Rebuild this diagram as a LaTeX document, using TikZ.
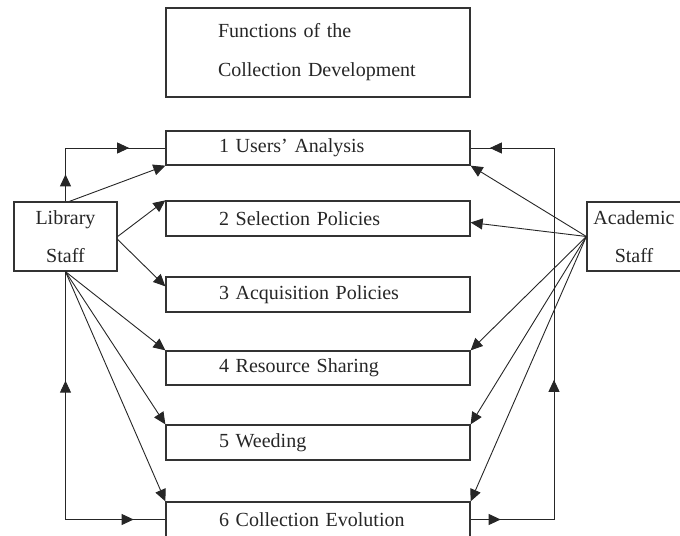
\documentclass[tikz,border=0pt]{standalone}
\usepackage{fontspec}
\setmainfont{Liberation Serif}
\usetikzlibrary{arrows.meta,decorations.markings}
\begin{document}
\begin{tikzpicture}[x=1bp,y=-1bp,
  >={Triangle[length=12bp,width=11bp]},
  every node/.style={font=\fontsize{20bp}{38bp}\selectfont, text=black!85},
  funcbox/.style={draw=black!80, line width=1.3bp, minimum width=304bp, text width=304bp, inner xsep=0pt, align=left},
  staffbox/.style={draw=black!80, line width=1.3bp, align=center, inner sep=0pt},
  conn/.style={draw=black!85, line width=0.9bp},
  tipped/.style={conn,->},
  mk/.style={postaction={decorate,decoration={markings,mark=at position #1 with {\arrow{>}}}}},
  rmk/.style={postaction={decorate,decoration={markings,mark=at position #1 with {\arrowreversed{>}}}}}
]
\useasboundingbox (0,0) rectangle (680,536);
\clip (0,0) rectangle (680,536);

% title
\node[funcbox, minimum height=89bp, font=\fontsize{20bp}{39bp}\selectfont] (title) at (318,52.5)
  {\hspace*{52bp}Functions of the\\\hspace*{52bp}Collection Development};

% function boxes
\node[funcbox, minimum height=34bp] (b1) at (318,148)   {\hspace*{53bp}1 Users' Analysis};
\node[funcbox, minimum height=35bp] (b2) at (318,218.5) {\hspace*{53bp}2 Selection Policies};
\node[funcbox, minimum height=35bp] (b3) at (318,294.5) {\hspace*{53bp}3 Acquisition Policies};
\node[funcbox, minimum height=34bp] (b4) at (318,368)   {\hspace*{53bp}4 Resource Sharing};
\node[funcbox, minimum height=35bp] (b5) at (318,442.5) {\hspace*{53bp}5 Weeding};
\node[funcbox, minimum height=35bp] (b6) at (318,519.5) {\hspace*{53bp}6 Collection Evolution};

% staff boxes
\node[staffbox, minimum width=103bp, minimum height=69bp] (lib) at (65.5,236.5) {Library\\Staff};
\node[staffbox, minimum width=94bp, minimum height=69bp] (acad) at (634,236.5) {Academic\\Staff};

\coordinate (rx) at (554,148);

% loops
\draw[conn, mk=27bp, mk=117bp] (lib.north) |- (b1.west);
\draw[conn, rmk=109bp, mk=316bp] (lib.south) |- (b6.west);
\draw[conn, mk=30bp, mk=223bp, mk=519bp] (b6.east) -| (rx) -- (b1.east);

% library staff arrows
\draw[tipped] ([xshift=4bp]lib.north) -- (b1.south west);
\draw[tipped] (lib.east) -- (b2.north west);
\draw[tipped] ([yshift=-3bp]lib.east) -- ([yshift=-10bp]b3.north west);
\draw[tipped] (lib.south) -- (b4.north west);
\draw[tipped] (lib.south) -- (b5.north west);
\draw[tipped] (lib.south) -- (b6.north west);

% academic staff arrows
\draw[tipped] (acad.west) -- (b1.south east);
\draw[tipped] (acad.west) -- ([yshift=-4bp]b2.east);
\draw[tipped] (acad.west) -- (b4.north east);
\draw[tipped] (acad.west) -- (b5.north east);
\draw[tipped] (acad.west) -- (b6.north east);
\end{tikzpicture}
\end{document}
